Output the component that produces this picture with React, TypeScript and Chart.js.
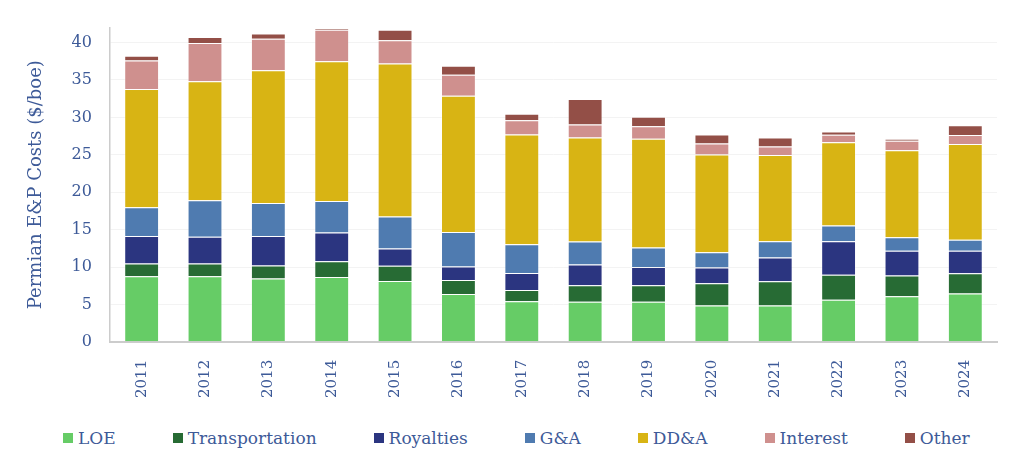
import { useEffect, useRef } from "react";
import { Chart, registerables } from "chart.js";
Chart.register(...registerables);

const years = ["2011", "2012", "2013", "2014", "2015", "2016", "2017", "2018", "2019", "2020", "2021", "2022", "2023", "2024"];
const loe = [8.75, 8.75, 8.45, 8.66, 8.13, 6.4, 5.44, 5.35, 5.35, 4.87, 4.87, 5.61, 6.1, 6.46];
const transportation = [1.73, 1.73, 1.75, 2.12, 2.04, 1.86, 1.5, 2.21, 2.21, 2.95, 3.22, 3.37, 2.75, 2.69];
const royalties = [3.67, 3.55, 3.95, 3.82, 2.3, 1.82, 2.26, 2.78, 2.43, 2.13, 3.18, 4.46, 3.31, 3.01];
const gna = [3.85, 4.9, 4.4, 4.23, 4.28, 4.6, 3.84, 3.06, 2.61, 2.03, 2.17, 2.12, 1.81, 1.5];
const dda = [15.8, 15.9, 17.75, 18.67, 20.45, 18.22, 14.66, 13.9, 14.55, 13.05, 11.54, 11.1, 11.63, 12.77];
const interest = [3.8, 5.1, 4.2, 4.2, 3.1, 2.8, 1.9, 1.75, 1.65, 1.47, 1.12, 1.02, 1.28, 1.2];
const other = [0.65, 0.8, 0.7, 0.2, 1.4, 1.2, 0.9, 3.4, 1.3, 1.2, 1.2, 0.42, 0.27, 1.32];
const yTicks = [0, 5, 10, 15, 20, 25, 30, 35, 40];

const seriesNames = ["LOE", "Transportation", "Royalties", "G&A", "DD&A", "Interest", "Other"];
const seriesColors = ["#66cc66", "#276b34", "#2b3580", "#4f7bb0", "#d8b414", "#cf908e", "#934f47"];

const TEXT = "#3d5a98";
const FONT = "'DejaVu Serif', serif";

export default function App() {
  const ref = useRef<HTMLCanvasElement>(null);
  useEffect(() => {
    document.body.style.margin = "0";
    const values = [loe, transportation, royalties, gna, dda, interest, other];
    const chart = new Chart(ref.current!, {
      type: "bar",
      data: {
        labels: years,
        datasets: seriesNames.map((name, i) => ({
          label: name,
          data: values[i],
          backgroundColor: seriesColors[i],
          borderColor: "rgba(255,255,255,0.35)",
          borderWidth: 1,
          categoryPercentage: 1,
          barPercentage: 0.55,
        })),
      },
      options: {
        animation: false,
        responsive: true,
        maintainAspectRatio: false,
        layout: { padding: { left: 22, right: 27, top: 15, bottom: 4 } },
        plugins: {
          tooltip: { enabled: false },
          legend: { display: false },
        },
        scales: {
          x: {
            stacked: true,
            grid: { display: false },
            border: { color: "#cccccc", width: 2 },
            ticks: {
              color: TEXT,
              font: { family: FONT, size: 15 },
              minRotation: 90,
              maxRotation: 90,
              padding: 10,
            },
          },
          y: {
            stacked: true,
            min: 0,
            max: 42,
            afterBuildTicks: (scale: any) => {
              scale.ticks = yTicks.map((v) => ({ value: v }));
            },
            grid: { color: "#f3f3f3", drawTicks: false },
            border: { color: "#cccccc", width: 1.5 },
            ticks: {
              color: TEXT,
              font: { family: FONT, size: 16 },
              padding: 18,
            },
            title: {
              display: true,
              text: "Permian E&P Costs ($/boe)",
              color: TEXT,
              font: { family: FONT, size: 18 },
              padding: { bottom: 6 },
            },
          },
        },
      },
    });
    return () => chart.destroy();
  }, []);
  return (
    <div style={{ width: 1024, height: 464, position: "relative", background: "#ffffff" }}>
      <div style={{ position: "absolute", left: 0, top: 0, width: 1024, height: 412 }}>
        <canvas ref={ref} />
      </div>
      <div
        style={{
          position: "absolute",
          left: 63,
          top: 428,
          display: "flex",
          alignItems: "center",
          gap: 57,
          fontFamily: FONT,
          fontSize: 17,
          color: TEXT,
          whiteSpace: "nowrap",
          lineHeight: "20px",
        }}
      >
        {seriesNames.map((name, i) => (
          <div key={name} style={{ display: "flex", alignItems: "center" }}>
            <span style={{ display: "inline-block", width: 10, height: 10, background: seriesColors[i], marginRight: 5 }} />
            <span>{name}</span>
          </div>
        ))}
      </div>
    </div>
  );
}
